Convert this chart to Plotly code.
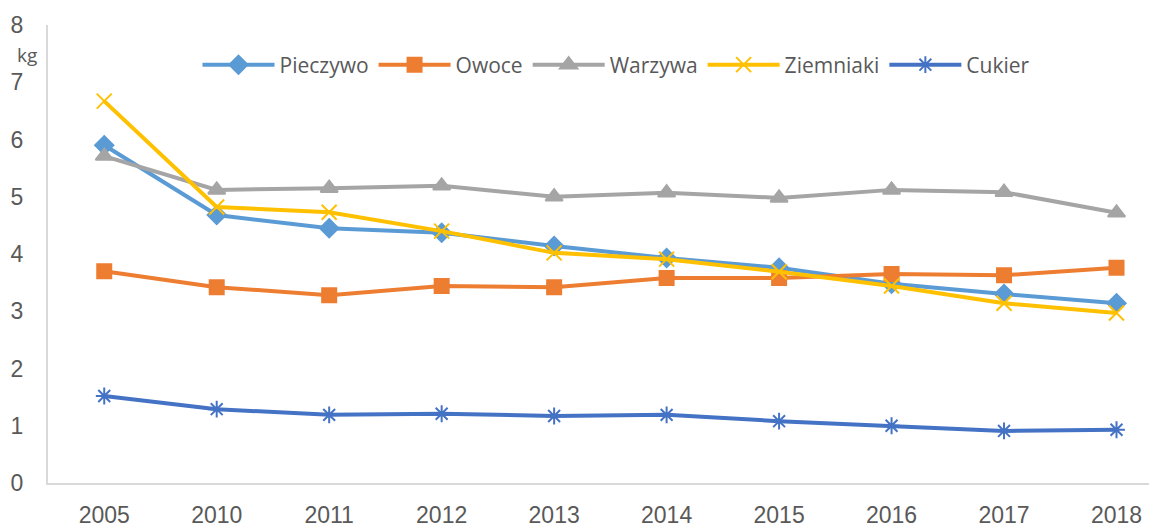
import plotly.graph_objects as go

years = ["2005", "2010", "2011", "2012", "2013", "2014", "2015", "2016", "2017", "2018"]
pieczywo = [5.90, 4.68, 4.45, 4.37, 4.14, 3.93, 3.76, 3.48, 3.30, 3.14]
owoce = [3.70, 3.42, 3.28, 3.44, 3.42, 3.58, 3.58, 3.65, 3.63, 3.76]
warzywa = [5.71, 5.12, 5.15, 5.19, 5.00, 5.07, 4.98, 5.12, 5.08, 4.72]
ziemniaki = [6.67, 4.82, 4.73, 4.40, 4.02, 3.91, 3.69, 3.44, 3.14, 2.97]
cukier = [1.52, 1.29, 1.19, 1.21, 1.17, 1.19, 1.08, 1.00, 0.91, 0.93]
y_ticks = [0, 1, 2, 3, 4, 5, 6, 7, 8]

series = [
    ("Pieczywo", pieczywo, "#5B9BD5", "diamond", 14),
    ("Owoce", owoce, "#ED7D31", "square", 14),
    ("Warzywa", warzywa, "#A5A5A5", "triangle-up", 15),
    ("Ziemniaki", ziemniaki, "#FFC000", "x-thin", 15),
    ("Cukier", cukier, "#4472C4", "asterisk", 14),
]

fig = go.Figure()
xs = list(range(len(years)))
for name, vals, color, sym, size in series:
    fig.add_trace(go.Scatter(
        x=xs, y=vals, name=name, mode="lines+markers",
        line=dict(color=color, width=4),
        marker=dict(symbol=sym, size=size, color=color,
                    line=dict(color=color, width=2)),
    ))

# page body has an 8px offset; compensate so the plot area lands at x 48..1157, y 25..483
OFF = 8
W, H = 1157, 527
L, R, T, B = 48 - OFF, OFF, 25 - OFF, 44 + OFF
pw, ph = W - L - R, H - T - B

fig.update_layout(
    width=W, height=H,
    margin=dict(l=L, r=R, t=T, b=B, autoexpand=False),
    paper_bgcolor="white", plot_bgcolor="white",
    font=dict(family="Liberation Sans", color="#595959"),
    showlegend=True,
    legend=dict(orientation="h", x=0.5 + 14 / pw, xanchor="center",
                y=(483 - 65) / ph, yanchor="middle",
                font=dict(family="Open Sans", size=21, color="#595959"),
                itemwidth=72, bgcolor="rgba(0,0,0,0)"),
    xaxis=dict(
        tickmode="array", tickvals=xs, ticktext=years, automargin=False,
        range=[-0.5, 9.36], showgrid=False, zeroline=False,
        showline=True, linecolor="#D9D9D9", linewidth=2,
        ticks="", tickfont=dict(size=23, color="#595959"),
        ticklabelstandoff=10,
    ),
    yaxis=dict(
        range=[0, 8], tickvals=y_ticks, showgrid=False, zeroline=False,
        automargin=False,
        showline=True, linecolor="#D9D9D9", linewidth=2,
        ticks="", tickfont=dict(size=23, color="#595959"),
        ticklabelstandoff=18,
    ),
    annotations=[dict(text="kg", x=(27 - 48) / pw, y=(483 - 55) / ph,
                      xref="paper", yref="paper", xanchor="center", yanchor="middle",
                      showarrow=False,
                      font=dict(family="Open Sans", size=19, color="#595959"))],
)

fig.write_html("out.html")
